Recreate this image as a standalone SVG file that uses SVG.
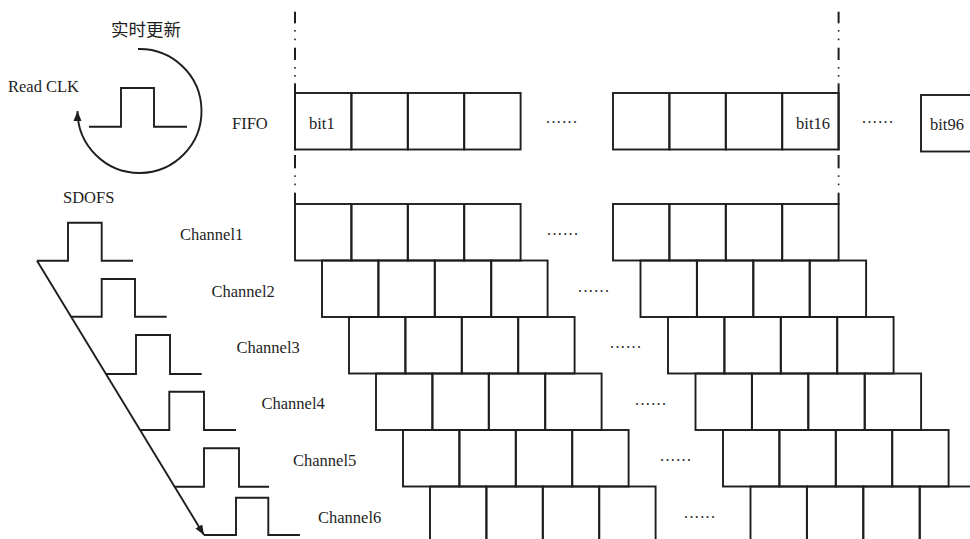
<svg xmlns="http://www.w3.org/2000/svg" width="970" height="539" viewBox="0 0 970 539">
<style>
  .c{fill:none;stroke:#1e1e1e;stroke-width:1.9}
  .ln{fill:none;stroke:#1e1e1e;stroke-width:1.9}
  .t{font-family:"Liberation Serif","Times New Roman",serif;font-size:16.5px;fill:#1e1e1e}
  .cjk{font-family:"Liberation Serif","Noto Sans CJK SC",serif;font-size:17.5px;fill:#1e1e1e}
  .dots{font-family:"Liberation Serif",serif;font-size:16px;fill:#1e1e1e;letter-spacing:1.4px}
  .dot{fill:#1e1e1e}
</style>
<defs>
  <marker id="ah" viewBox="0 0 10 10" refX="10" refY="5" markerWidth="10" markerHeight="10" markerUnits="userSpaceOnUse" orient="auto">
    <path d="M0,1 L10,5 L0,9 Z" fill="#1e1e1e"/>
  </marker>
  <g id="dashdot">
    <rect x="-1" y="11.7" width="2" height="11.6" class="dot"/>
    <rect x="-0.8" y="30" width="1.6" height="1.6" class="dot"/>
    <rect x="-0.8" y="38.6" width="1.6" height="1.6" class="dot"/>
    <rect x="-1" y="47.7" width="2" height="12.3" class="dot"/>
    <rect x="-0.8" y="67" width="1.6" height="1.6" class="dot"/>
    <rect x="-0.8" y="75" width="1.6" height="1.6" class="dot"/>
    <rect x="-1" y="83.3" width="2" height="67" class="dot"/>
    <rect x="-1" y="155" width="2" height="13.3" class="dot"/>
    <rect x="-0.8" y="175.3" width="1.6" height="1.6" class="dot"/>
    <rect x="-0.8" y="183.6" width="1.6" height="1.6" class="dot"/>
    <rect x="-1" y="192.7" width="2" height="12" class="dot"/>
  </g>
</defs>
<rect width="970" height="539" fill="#ffffff"/>

<g id="guides">
  <use href="#dashdot" x="295" y="0"/>
  <use href="#dashdot" x="838.6" y="0"/>
</g>

<g id="clk">
  <text class="cjk" x="111" y="35.5">实时更新</text>
  <text class="t" x="8" y="91.5">Read CLK</text>
  <polyline class="ln" points="89,126.7 121,126.7 121,88 154,88 154,126.7 187,126.7"/>
</g>

<g id="fifo">
  <text class="t" x="232" y="128.5">FIFO</text>
  <rect class="c" x="295" y="93" width="56.4" height="56.5"/>
  <rect class="c" x="351.4" y="93" width="56.4" height="56.5"/>
  <rect class="c" x="407.8" y="93" width="56.4" height="56.5"/>
  <rect class="c" x="464.2" y="93" width="56.4" height="56.5"/>
  <rect class="c" x="613" y="93" width="56.4" height="56.5"/>
  <rect class="c" x="669.4" y="93" width="56.4" height="56.5"/>
  <rect class="c" x="725.8" y="93" width="56.4" height="56.5"/>
  <rect class="c" x="782.2" y="93" width="56.4" height="56.5"/>
  <rect class="c" x="921" y="95" width="56.4" height="56.5"/>
  <text class="t" x="309" y="128.5">bit1</text>
  <text class="t" x="830" y="128.5" text-anchor="end">bit16</text>
  <text class="t" x="930" y="130">bit96</text>
  <text class="dots" x="546" y="123">......</text>
  <text class="dots" x="862" y="123">......</text>
</g>

<g id="sdofs">
  <text class="t" x="63" y="203">SDOFS</text>
  <polyline class="ln" points="37,260.7 68,260.7 68,222.7 101.7,222.7 101.7,260.7 133,260.7"/>
  <polyline class="ln" points="71,316.7 101.7,316.7 101.7,279 135,279 135,316.7 166.7,316.7"/>
  <polyline class="ln" points="106,374 136,374 136,335 170,335 170,374 201.7,374"/>
  <polyline class="ln" points="140.5,430 169.3,430 169.3,391.7 204,391.7 204,430 236,430"/>
  <polyline class="ln" points="175,486.7 204,486.7 204,448.3 239,448.3 239,486.7 269,486.7"/>
  <polyline class="ln" points="204,535 236,535 236,497.7 268.3,497.7 268.3,535 300,535"/>
</g>

<g id="channel1">
  <text class="t" x="180" y="240">Channel1</text>
  <rect class="c" x="295" y="204" width="56.4" height="56.5"/>
  <rect class="c" x="351.4" y="204" width="56.4" height="56.5"/>
  <rect class="c" x="407.8" y="204" width="56.4" height="56.5"/>
  <rect class="c" x="464.2" y="204" width="56.4" height="56.5"/>
  <rect class="c" x="613" y="204" width="56.4" height="56.5"/>
  <rect class="c" x="669.4" y="204" width="56.4" height="56.5"/>
  <rect class="c" x="725.8" y="204" width="56.4" height="56.5"/>
  <rect class="c" x="782.2" y="204" width="56.4" height="56.5"/>
  <text class="dots" x="547" y="235">......</text>
</g>

<g id="channel2">
  <text class="t" x="211.5" y="297">Channel2</text>
  <rect class="c" x="322" y="260.5" width="56.4" height="56.5"/>
  <rect class="c" x="378.4" y="260.5" width="56.4" height="56.5"/>
  <rect class="c" x="434.8" y="260.5" width="56.4" height="56.5"/>
  <rect class="c" x="491.2" y="260.5" width="56.4" height="56.5"/>
  <rect class="c" x="640.5" y="260.5" width="56.4" height="56.5"/>
  <rect class="c" x="696.9" y="260.5" width="56.4" height="56.5"/>
  <rect class="c" x="753.3" y="260.5" width="56.4" height="56.5"/>
  <rect class="c" x="809.7" y="260.5" width="56.4" height="56.5"/>
  <text class="dots" x="578" y="292">......</text>
</g>

<g id="channel3">
  <text class="t" x="236.5" y="353">Channel3</text>
  <rect class="c" x="349" y="317" width="56.4" height="56.5"/>
  <rect class="c" x="405.4" y="317" width="56.4" height="56.5"/>
  <rect class="c" x="461.8" y="317" width="56.4" height="56.5"/>
  <rect class="c" x="518.2" y="317" width="56.4" height="56.5"/>
  <rect class="c" x="668" y="317" width="56.4" height="56.5"/>
  <rect class="c" x="724.4" y="317" width="56.4" height="56.5"/>
  <rect class="c" x="780.8" y="317" width="56.4" height="56.5"/>
  <rect class="c" x="837.2" y="317" width="56.4" height="56.5"/>
  <text class="dots" x="610" y="348">......</text>
</g>

<g id="channel4">
  <text class="t" x="261.5" y="408.5">Channel4</text>
  <rect class="c" x="376" y="373.5" width="56.4" height="56.5"/>
  <rect class="c" x="432.4" y="373.5" width="56.4" height="56.5"/>
  <rect class="c" x="488.8" y="373.5" width="56.4" height="56.5"/>
  <rect class="c" x="545.2" y="373.5" width="56.4" height="56.5"/>
  <rect class="c" x="695.5" y="373.5" width="56.4" height="56.5"/>
  <rect class="c" x="751.9" y="373.5" width="56.4" height="56.5"/>
  <rect class="c" x="808.3" y="373.5" width="56.4" height="56.5"/>
  <rect class="c" x="864.7" y="373.5" width="56.4" height="56.5"/>
  <text class="dots" x="635" y="405">......</text>
</g>

<g id="channel5">
  <text class="t" x="293" y="465.5">Channel5</text>
  <rect class="c" x="403" y="430" width="56.4" height="56.5"/>
  <rect class="c" x="459.4" y="430" width="56.4" height="56.5"/>
  <rect class="c" x="515.8" y="430" width="56.4" height="56.5"/>
  <rect class="c" x="572.2" y="430" width="56.4" height="56.5"/>
  <rect class="c" x="723" y="430" width="56.4" height="56.5"/>
  <rect class="c" x="779.4" y="430" width="56.4" height="56.5"/>
  <rect class="c" x="835.8" y="430" width="56.4" height="56.5"/>
  <rect class="c" x="892.2" y="430" width="56.4" height="56.5"/>
  <text class="dots" x="660" y="461">......</text>
</g>

<g id="channel6">
  <text class="t" x="318" y="522.5">Channel6</text>
  <rect class="c" x="430" y="486.5" width="56.4" height="56.5"/>
  <rect class="c" x="486.4" y="486.5" width="56.4" height="56.5"/>
  <rect class="c" x="542.8" y="486.5" width="56.4" height="56.5"/>
  <rect class="c" x="599.2" y="486.5" width="56.4" height="56.5"/>
  <rect class="c" x="750.5" y="486.5" width="56.4" height="56.5"/>
  <rect class="c" x="806.9" y="486.5" width="56.4" height="56.5"/>
  <rect class="c" x="863.3" y="486.5" width="56.4" height="56.5"/>
  <rect class="c" x="919.7" y="486.5" width="56.4" height="56.5"/>
  <text class="dots" x="684" y="518">......</text>
</g>

<g id="connectors">
  <path class="ln" d="M138,49 A62,62 0 1 1 77.5,111" marker-end="url(#ah)" stroke-width="1.7"/>
  <line class="ln" x1="37" y1="260.7" x2="204" y2="535" marker-end="url(#ah)" stroke-width="1.6"/>
</g>
</svg>
